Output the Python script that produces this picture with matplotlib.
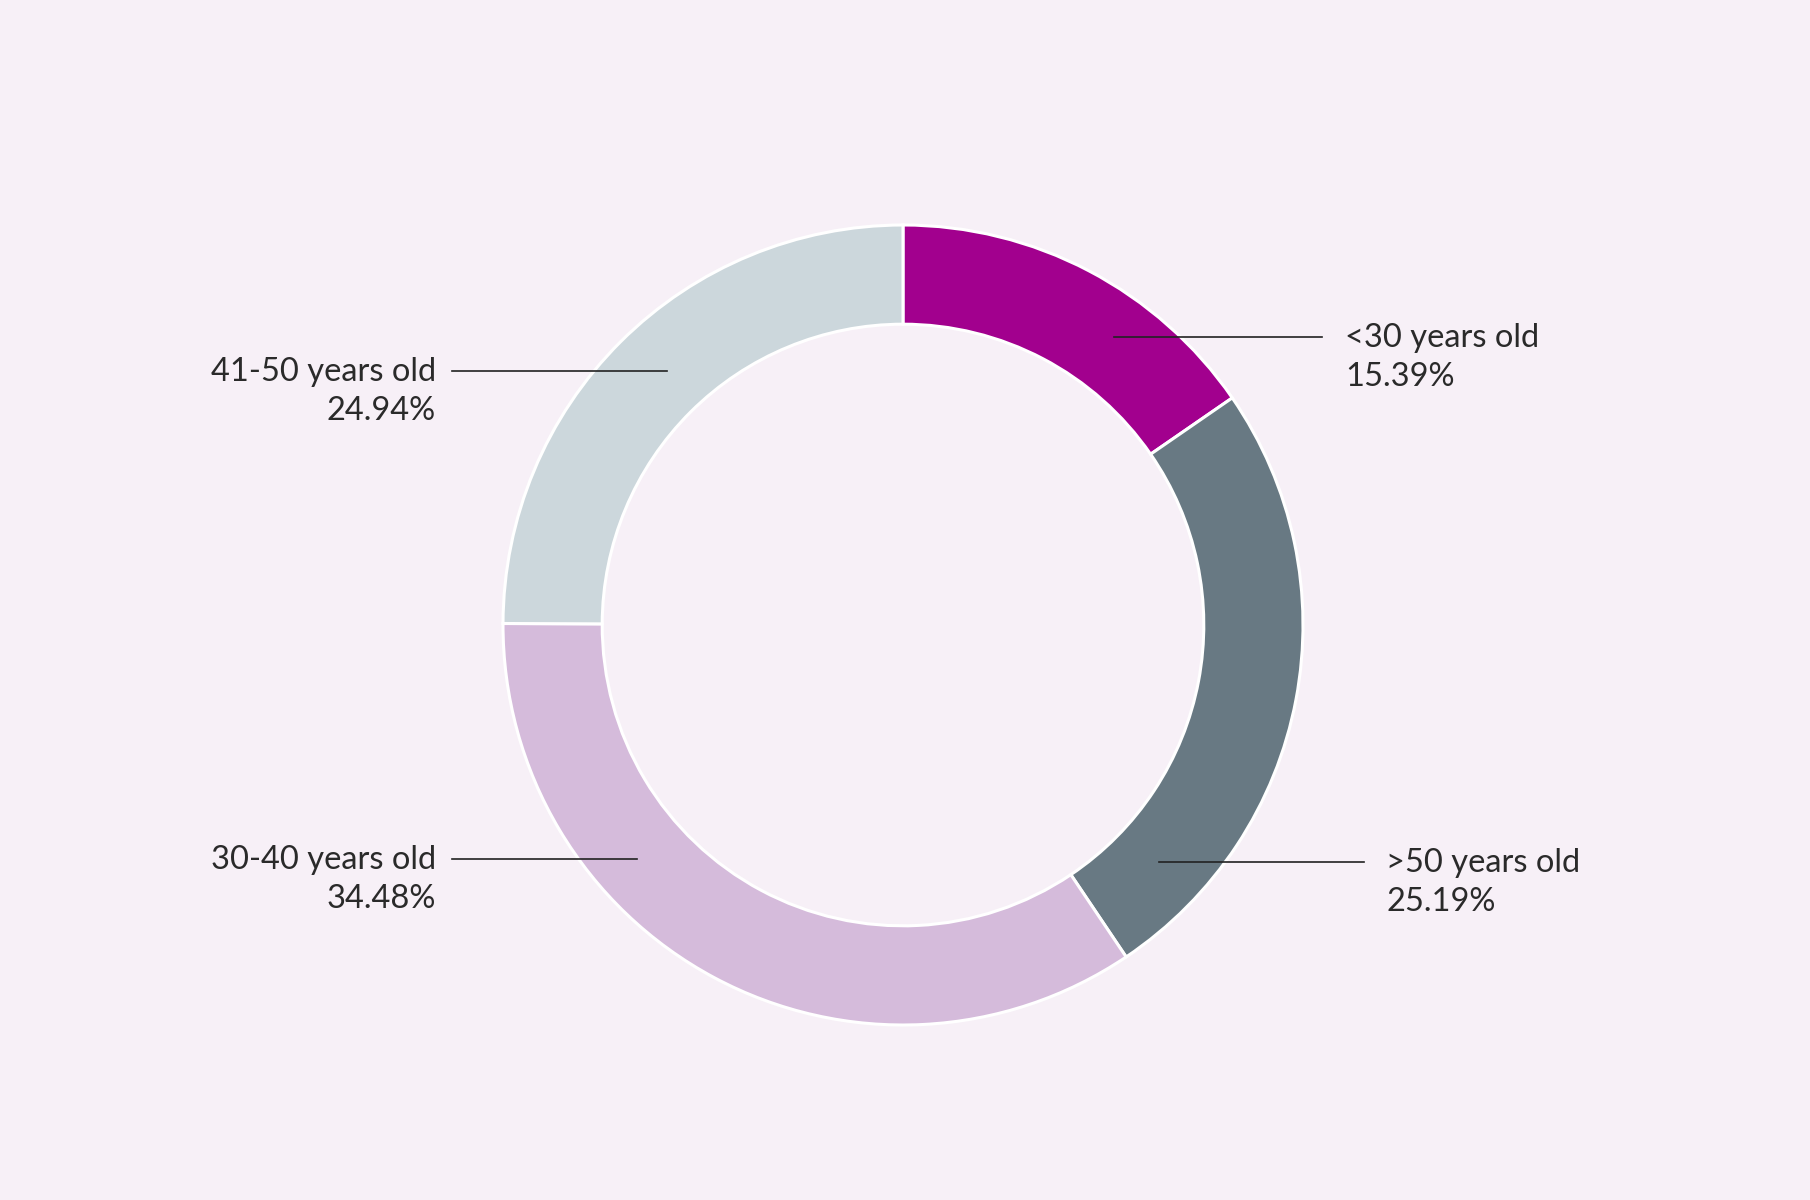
import matplotlib.pyplot as plt

labels = ["<30 years old", ">50 years old", "30-40 years old", "41-50 years old"]
shares = [15.39, 25.19, 34.48, 24.94]
colors = ["#A2008E", "#687983", "#D5BBDB", "#CCD7DC"]

# label layout in pixel coords (y measured from top): line start, line end, text anchor
line_from = [(1114, 337), (1159, 862), (637, 859), (667, 371)]
line_to = [(1322, 337), (1364, 862), (452, 859), (452, 371)]
text_at = [(1345, 338), (1386, 863), (436, 860), (436, 372)]

W, H = 1810, 1200
bg = "#F7F0F7"

fig = plt.figure(figsize=(W / 100, H / 100), dpi=100, facecolor=bg)
ax = fig.add_axes([0, 0, 1, 1])
ax.set_facecolor(bg)

cx, cy, r_out = 903, H - 625, 400
ax.pie(
    shares,
    colors=colors,
    startangle=90,
    counterclock=False,
    radius=r_out,
    center=(cx, cy),
    wedgeprops=dict(width=r_out * 0.248, edgecolor="white", linewidth=2.2),
    frame=True,
)
ax.set_xlim(0, W)
ax.set_ylim(0, H)
ax.set_aspect("equal")
ax.axis("off")

for lab, val, p0, p1, t in zip(labels, shares, line_from, line_to, text_at):
    ax.plot([p0[0], p1[0]], [H - p0[1], H - p1[1]], color="#222222", lw=1.2)
    ha = "left" if t[0] > cx else "right"
    ax.text(t[0], H - t[1], lab, ha=ha, va="center", fontsize=23.5,
            family="Lato", color="#2a2a2a")
    ax.text(t[0], H - t[1] - 39, f"{val:.2f}%", ha=ha, va="center", fontsize=23.5,
            family="Lato", color="#2a2a2a")

fig.savefig("out.png", dpi=100, facecolor=bg)
